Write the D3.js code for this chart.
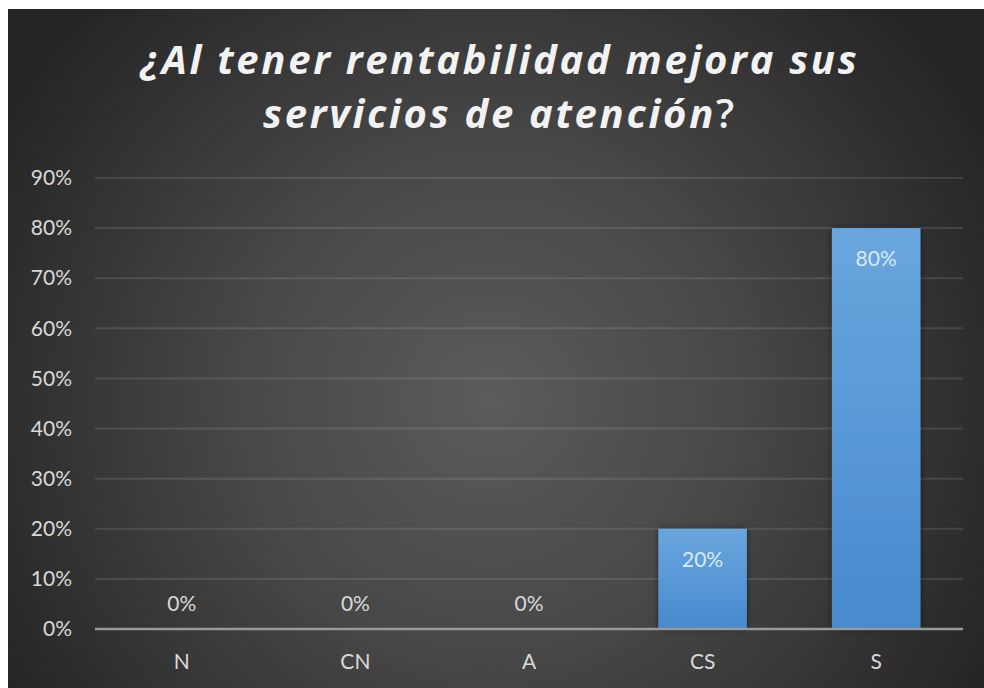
<!DOCTYPE html>
<html>
<head>
<meta charset="utf-8">
<script src="https://cdn.jsdelivr.net/npm/d3@7"></script>
<style>
html,body{margin:0;padding:0;background:#fff;}
svg{display:block;}
</style>
</head>
<body>
<svg id="chart" width="984" height="688"></svg>
<script>
const titleLines = ["¿Al tener rentabilidad mejora sus", "servicios de atención?"];
const categories = ["N", "CN", "A", "CS", "S"];
const values = [0, 0, 0, 0.20, 0.80];
const yTicks = [0, 0.1, 0.2, 0.3, 0.4, 0.5, 0.6, 0.7, 0.8, 0.9];

const svg = d3.select("#chart");
const W = 984, H = 688;
const defs = svg.append("defs");

const bg = defs.append("radialGradient").attr("id", "bg")
  .attr("gradientUnits", "userSpaceOnUse")
  .attr("cx", 490).attr("cy", 400).attr("r", 570);
bg.append("stop").attr("offset", "0%").attr("stop-color", "#5b5b5b");
bg.append("stop").attr("offset", "45%").attr("stop-color", "#474747");
bg.append("stop").attr("offset", "100%").attr("stop-color", "#242424");

const barG = defs.append("linearGradient").attr("id", "barG")
  .attr("x1", 0).attr("y1", 0).attr("x2", 0).attr("y2", 1);
barG.append("stop").attr("offset", "0%").attr("stop-color", "#6aa6de");
barG.append("stop").attr("offset", "100%").attr("stop-color", "#478ace");

const sh = defs.append("filter").attr("id", "sh")
  .attr("x", "-20%").attr("y", "-20%").attr("width", "140%").attr("height", "140%");
sh.append("feDropShadow").attr("dx", 0).attr("dy", 0).attr("stdDeviation", 3)
  .attr("flood-color", "#000").attr("flood-opacity", 0.5);

svg.append("rect").attr("x", 8).attr("y", 9).attr("width", W - 8).attr("height", H - 9)
  .attr("fill", "url(#bg)");

// Title (the trailing "?" is upright in the reference)
const title = svg.append("g");
const tl = title.selectAll("text").data(titleLines).enter().append("text")
  .attr("x", 500)
  .attr("y", (d, i) => 74 + i * 54)
  .attr("text-anchor", "middle")
  .attr("font-family", "'Open Sans', sans-serif")
  .attr("font-size", 40)
  .attr("font-weight", "bold")
  .attr("font-style", "italic")
  .attr("fill", "#f2f2f2");
tl.each(function(d) {
  const t = d3.select(this);
  const endsQ = d.endsWith("?");
  t.append("tspan").text(endsQ ? d.slice(0, -1) : d);
  if (endsQ) t.append("tspan").attr("font-style", "normal").attr("font-weight", 600).text("?");
});
// fit letter-spacing so the first line spans ~716px
(function(){
  const node = tl.nodes()[0];
  const len = node.getComputedTextLength();
  const n = titleLines[0].length;
  const ls = (716 - len) / (n - 1);
  tl.attr("letter-spacing", ls + "px");
})();

const x = d3.scaleBand().domain(categories).range([95, 963])
  .paddingInner(0.49).paddingOuter(0.245);
const y = d3.scaleLinear().domain([0, 0.9]).range([629, 178]);

// gridlines
svg.append("g").selectAll("line").data(yTicks.filter(t => t > 0)).enter().append("line")
  .attr("x1", 95).attr("x2", 963)
  .attr("y1", d => y(d)).attr("y2", d => y(d))
  .attr("stroke", "rgba(255,255,255,0.11)").attr("stroke-width", 2);

// y axis labels
const yAxis = d3.axisLeft(y).tickValues(yTicks).tickFormat(d3.format(".0%")).tickSize(0).tickPadding(0);
const ya = svg.append("g").attr("transform", "translate(72,0)").call(yAxis);
ya.select(".domain").remove();
ya.selectAll("text").attr("font-family", "Lato, sans-serif").attr("font-size", 21)
  .attr("fill", "#d9d9d9");

// bars
svg.append("g").selectAll("rect").data(categories.map((c, i) => ({c, v: values[i]})).filter(d => d.v > 0))
  .enter().append("rect")
  .attr("x", d => x(d.c)).attr("width", x.bandwidth())
  .attr("y", d => y(d.v)).attr("height", d => y(0) - y(d.v))
  .attr("fill", "url(#barG)").attr("filter", "url(#sh)");

// x axis line
const xAxis = d3.axisBottom(x).tickSize(0).tickPadding(0);
const xa = svg.append("g").attr("transform", `translate(0,${y(0)})`).call(xAxis);
xa.select(".domain").attr("stroke", "#999").attr("stroke-width", 2.5).attr("d", "M95,0H963");
xa.selectAll("text").attr("dy", "0").attr("y", 40)
  .attr("font-family", "Lato, sans-serif").attr("font-size", 21).attr("fill", "#d9d9d9");

// data labels
svg.append("g").selectAll("text").data(categories.map((c, i) => ({c, v: values[i]}))).enter().append("text")
  .attr("x", d => x(d.c) + x.bandwidth() / 2)
  .attr("y", d => d.v > 0 ? y(d.v) + 38 : y(0) - 18)
  .attr("text-anchor", "middle")
  .attr("font-family", "Lato, sans-serif").attr("font-size", 21)
  .attr("fill", d => d.v > 0 ? "#dce8f6" : "#d9d9d9")
  .text(d => d3.format(".0%")(d.v));
</script>
</body>
</html>
